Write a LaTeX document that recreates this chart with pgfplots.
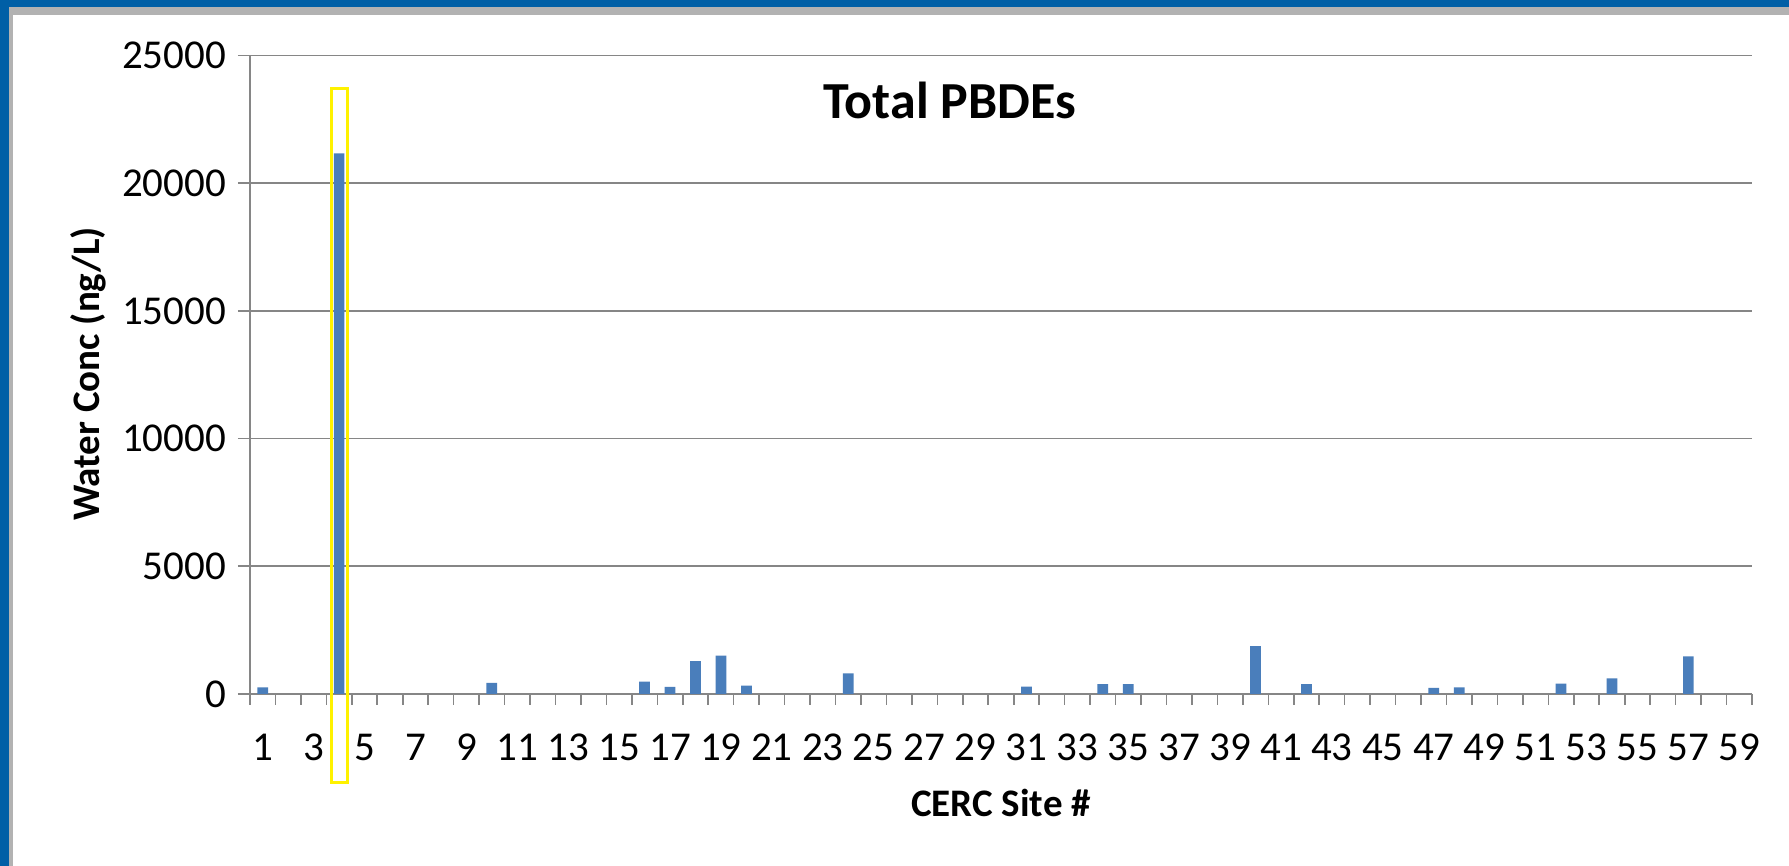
\documentclass[border=0pt]{standalone}
\usepackage{fontspec}
\setmainfont{Carlito}
\usepackage{pgfplots}
\pgfplotsset{compat=1.18}
\definecolor{framebl}{RGB}{0,95,166}
\definecolor{gridg}{RGB}{134,134,134}
\definecolor{barbl}{RGB}{74,126,187}
\begin{document}
\begin{tikzpicture}[x=1pt,y=1pt]
\path[use as bounding box, fill=white] (0,0) rectangle (894.5,433);
\draw[line width=4pt, color=gray!60] (4.5,427.5) -- (894.5,427.5);
\draw[line width=2pt, color=gray!60] (5.5,0) -- (5.5,427.5);
\fill[framebl] (0,429.5) rectangle (894.5,433);
\fill[framebl] (0,0) rectangle (4.5,433);
\begin{axis}[
  at={(125pt,86pt)}, anchor=south west,
  scale only axis, width=751pt, height=319.25pt,
  xmin=0.5, xmax=59.5, ymin=0, ymax=25000,
  ytick={0,5000,...,25000},
  xtick={1,3,...,59},
  minor xtick={0.5,1.5,...,59.5},
  scaled y ticks=false,
  ymajorgrids,
  grid style={gridg, line width=0.8pt},
  axis x line*=bottom, axis y line*=left,
  axis line style={gridg, line width=0.8pt, -},
  tick align=outside,
  major tick length=6pt, minor tick length=5.5pt,
  major x tick style={draw=none},
  minor x tick style={gridg, line width=0.8pt},
  major y tick style={gridg, line width=0.8pt},
  /pgf/number format/.cd, 1000 sep={}, assume math mode=true,
  /pgfplots/.cd,
  ticklabel style={font=\fontsize{20.5}{24}\selectfont, text=black},
  xticklabel style={anchor=center, yshift=-20.5pt},
  yticklabel style={anchor=east, xshift=-2.5pt},
  clip=false,
]
\addplot[ybar, bar width=5.35pt, fill=barbl, draw=none] coordinates {
(1,260) (4,21170) (10,440) (16,480) (17,275) (18,1290) (19,1500) (20,330)
(24,810) (31,290) (34,390) (35,390) (40,1870) (42,390) (47,240) (48,255)
(52,410) (54,610) (57,1470)};
\draw[yellow, line width=1.5pt] (axis cs:3.72,-3450) rectangle (axis cs:4.34,23690);
\end{axis}
\node[font=\bfseries\fontsize{26}{30}\selectfont] at (475,383) {Total PBDEs};
\node[font=\bfseries\fontsize{19.5}{23}\selectfont, rotate=90] at (44,246) {Water Conc (ng/L)};
\node[font=\bfseries\fontsize{19.5}{23}\selectfont] at (500.5,31.5) {CERC Site \#};
\end{tikzpicture}
\end{document}
